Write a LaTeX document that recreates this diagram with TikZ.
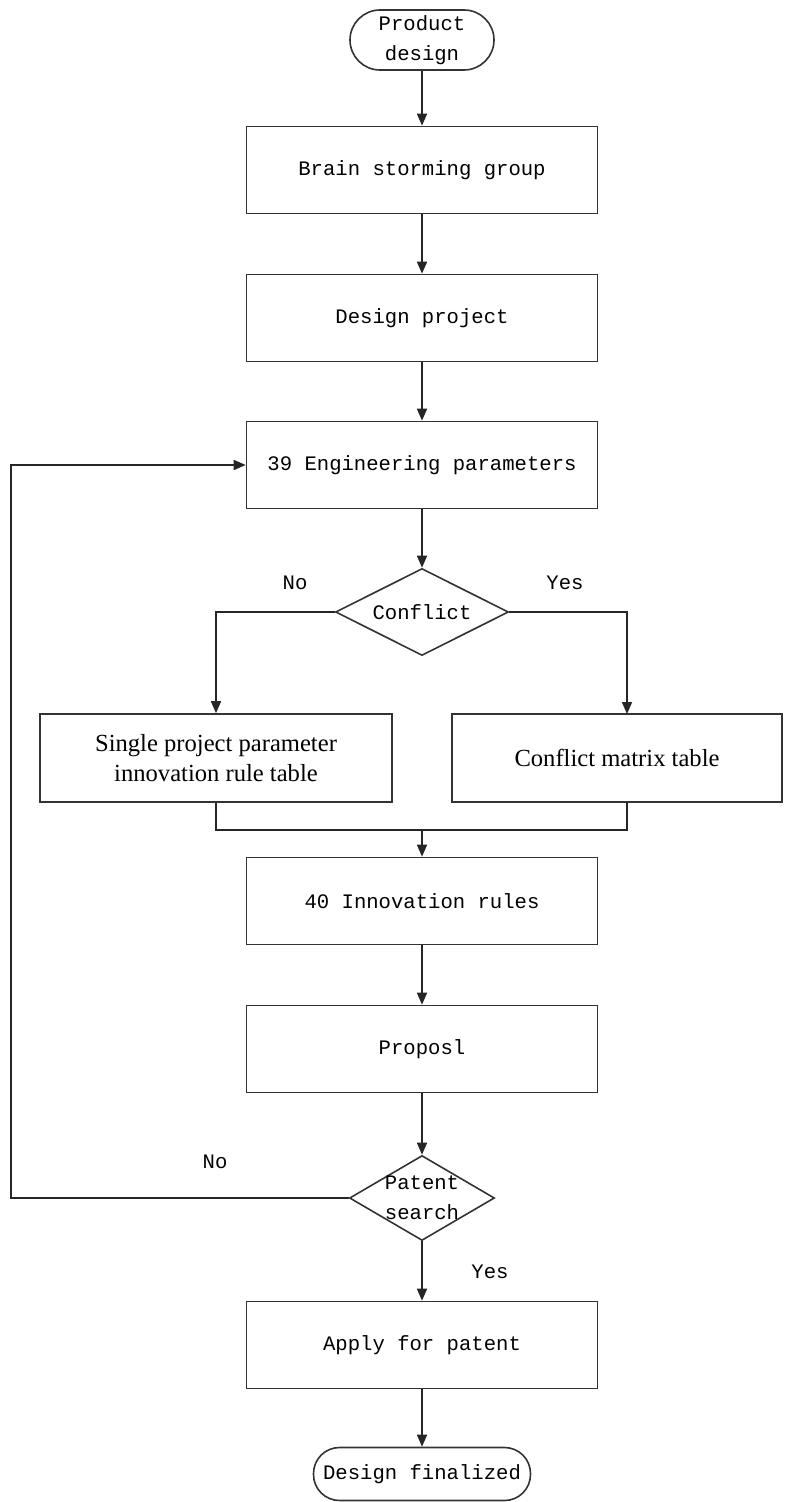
\documentclass[tikz,border=0pt]{standalone}
\usepackage{fontspec}
\setmainfont{Liberation Serif}
\newfontfamily\monofont{Liberation Mono}
\usetikzlibrary{shapes.geometric,arrows.meta}

\tikzset{
  flow/.style={line width=0.8pt, draw=black!85},
  arrow/.style={flow, -{Triangle[length=6pt,width=5pt]}},
  stepbox/.style={draw=black!80, line width=0.8pt, rectangle, fill=white, minimum width=175.5pt, minimum height=43.5pt, font=\monofont\fontsize{10.3}{14}\selectfont},
  sidebox/.style={stepbox, minimum height=44pt, align=center, font=\fontsize{12.3}{15}\selectfont},
  terminal/.style={draw=black!80, line width=0.8pt, rectangle, fill=white, inner sep=0pt, align=center, font=\monofont\fontsize{10.3}{15}\selectfont},
  decision/.style={draw=black!80, line width=0.8pt, diamond, aspect=2, inner sep=0pt, fill=white, font=\monofont\fontsize{10.3}{14}\selectfont},
  answer/.style={font=\monofont\fontsize{10.3}{15}\selectfont}
}

\begin{document}
\begin{tikzpicture}[x=0.5pt,y=-0.5pt]
    \useasboundingbox (0,0) rectangle (790,1502);

    %steps
    \node[terminal, rounded corners=15pt, minimum width=72pt, minimum height=30pt] (start) at (422,40) {Product\\design};
    \node[stepbox] (brain) at (422,170) {Brain storming group};
    \node[stepbox] (project) at (422,318) {Design project};
    \node[stepbox] (params) at (422,465) {39 Engineering parameters};
    \node[decision, minimum width=86.5pt, minimum height=43.5pt] (conflict) at (422,612) {Conflict};
    \node[sidebox, minimum width=176pt] (single) at (216,758) {Single project parameter\\innovation rule table};
    \node[sidebox, minimum width=165pt] (matrix) at (617,758) {Conflict matrix table};
    \node[stepbox] (rules) at (422,901) {40 Innovation rules};
    \node[stepbox] (proposal) at (422,1049) {Proposl};
    \node[decision, minimum width=72.5pt, minimum height=42.5pt] (patent) at (422,1198) {};
    \node[answer, align=center] (patenttext) at (patent) {Patent\\search};
    \node[stepbox] (apply) at (422,1345) {Apply for patent};
    \node[terminal, rounded corners=13pt, minimum width=108.5pt, minimum height=26.5pt] (finish) at (422,1474) {Design finalized};

    %labels
    \node[answer] (noleft) at (295,583) {No};
    \node[answer] (yesright) at (565,583) {Yes};
    \node[answer] (noback) at (215,1162) {No};
    \node[answer] (yesdown) at (490,1272) {Yes};

    %main line
    \draw[arrow] (start) -- (brain);
    \draw[arrow] (brain) -- (project);
    \draw[arrow] (project) -- (params);
    \draw[arrow] (params) -- (conflict);

    %branches
    \coordinate (mtop) at (627,714);
    \coordinate (mbot) at (627,802);
    \coordinate (join) at (422,830);
    \draw[arrow] (conflict.west) -| (single.north);
    \draw[arrow] (conflict.east) -| (mtop);
    \draw[flow] (single.south) |- (join);
    \draw[flow] (mbot) |- (join);
    \draw[arrow] (join) -- (rules);

    \draw[arrow] (rules) -- (proposal);
    \draw[arrow] (proposal) -- (patent);
    \draw[arrow] (patent) -- (apply);
    \draw[arrow] (apply) -- (finish);

    %back to parameters
    \draw[arrow] (patent.west) -- ++(-338,0) |- (params.west);
\end{tikzpicture}
\end{document}
